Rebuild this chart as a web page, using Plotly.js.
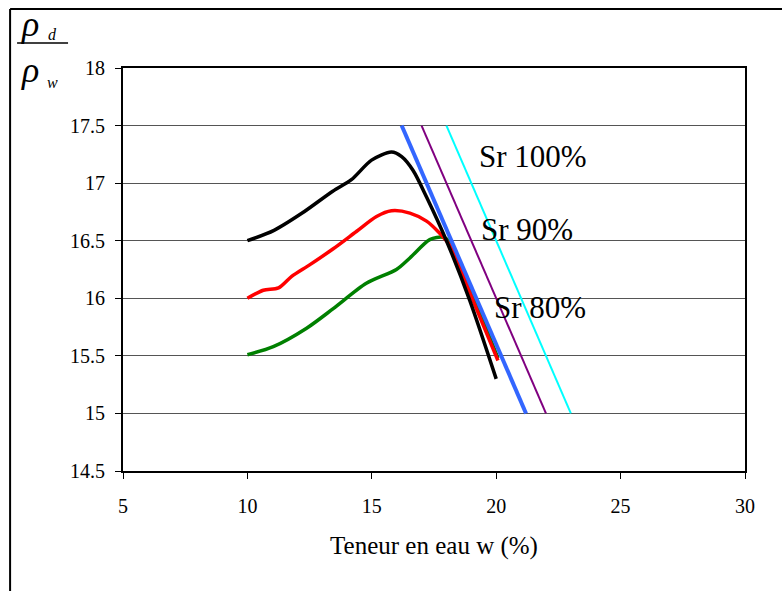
<!DOCTYPE html>
<html>
<head>
<meta charset="utf-8">
<script src="https://cdn.plot.ly/plotly-3.0.1.min.js"></script>
<style>html,body{margin:0;padding:0;background:#fff;}</style>
</head>
<body>
<div id="chart" style="width:782px;height:591px;"></div>
<script>
// Courbes Proctor (teneur en eau w %, rho_d / rho_w)
const blackW = [10, 11.07, 12.2, 13.43, 14.18, 14.99, 15.79, 16.2, 16.66, 17.2, 18.0, 18.94, 20.0];
const blackY = [16.5, 16.59, 16.74, 16.93, 17.03, 17.2, 17.27, 17.23, 17.11, 16.88, 16.5, 15.98, 15.3];

const redW = [10, 10.64, 11.25, 11.78, 12.5, 13.45, 14.38, 15.19, 15.79, 16.53, 17.2, 17.66, 18.13, 19.07, 20.07];
const redY = [16.0, 16.07, 16.09, 16.19, 16.29, 16.43, 16.58, 16.71, 16.76, 16.74, 16.67, 16.58, 16.46, 15.98, 15.46];

const greenW = [10, 11.04, 12.38, 13.45, 14.78, 15.99, 16.53, 17.33, 17.86, 18.13, 19.07, 20.07];
const greenY = [15.51, 15.58, 15.74, 15.91, 16.13, 16.25, 16.35, 16.51, 16.53, 16.49, 16.02, 15.48];

// Courbes de saturation
const satY = [17.5, 15.0];
const sr80W = [16.2, 21.2];
const sr90W = [17.0, 22.0];
const sr100W = [18.0, 23.0];
const satLabels = ["Sr 100%", "Sr 90%", "Sr 80%"];

const xTicks = [5, 10, 15, 20, 25, 30];
const yTicks = [14.5, 15, 15.5, 16, 16.5, 17, 17.5, 18];

const curve = (x, y, color, width) => ({
  x: x, y: y, type: 'scatter', mode: 'lines',
  line: {color: color, width: width, shape: 'spline', smoothing: 0.8},
  hoverinfo: 'skip', showlegend: false
});
const straight = (x, y, color, width) => ({
  x: x, y: y, type: 'scatter', mode: 'lines',
  line: {color: color, width: width},
  hoverinfo: 'skip', showlegend: false
});

const data = [
  straight(sr100W, satY, '#00ffff', 2),
  straight(sr90W, satY, '#800080', 2),
  curve(greenW, greenY, '#008000', 3.5),
  curve(redW, redY, '#ff0000', 3.5),
  curve(blackW, blackY, '#000000', 3.5),
  straight(sr80W, satY, '#3366ff', 4)
];

const serif = 'Times New Roman';
const px2x = p => (p - 123) / 622.5;
const px2y = p => (471 - p) / 403;

const layout = {
  width: 782, height: 591,
  margin: {l: 123, r: 37, t: 68, b: 120},
  paper_bgcolor: '#ffffff', plot_bgcolor: '#ffffff',
  font: {family: serif, color: '#000', size: 20},
  showlegend: false,
  xaxis: {
    range: [5, 30], tickmode: 'array', tickvals: xTicks, ticktext: xTicks.map(String),
    showgrid: false, zeroline: false,
    showline: true, linecolor: '#000', linewidth: 2, mirror: true,
    ticks: 'outside', ticklen: 6, tickcolor: '#000', tickwidth: 1,
    ticklabelstandoff: 10,
    tickfont: {family: serif, size: 20, color: '#000'},
    title: {text: 'Teneur en eau w (%)', font: {family: serif, size: 25, color: '#000'}, standoff: 20}
  },
  yaxis: {
    range: [14.5, 18], tickmode: 'array', tickvals: yTicks, ticktext: yTicks.map(String),
    showgrid: true, gridcolor: '#555', gridwidth: 1, zeroline: false,
    showline: true, linecolor: '#000', linewidth: 2, mirror: true,
    ticks: 'outside', ticklen: 6, tickcolor: '#000', tickwidth: 1,
    ticklabelstandoff: 6,
    tickfont: {family: serif, size: 20, color: '#000'}
  },
  shapes: [
    {type: 'line', xref: 'paper', yref: 'paper', x0: px2x(10), x1: px2x(790), y0: px2y(9), y1: px2y(9), line: {color: '#000', width: 2}},
    {type: 'line', xref: 'paper', yref: 'paper', x0: px2x(10), x1: px2x(10), y0: px2y(9), y1: px2y(600), line: {color: '#000', width: 2}},
    {type: 'line', xref: 'paper', yref: 'paper', x0: px2x(17), x1: px2x(68), y0: px2y(43), y1: px2y(43), line: {color: '#000', width: 1.5}}
  ],
  annotations: [
    {text: satLabels[0], x: 21.47, y: 17.235, xref: 'x', yref: 'y', showarrow: false, xanchor: 'center', yanchor: 'middle', font: {family: serif, size: 31}},
    {text: satLabels[1], x: 21.25, y: 16.60, xref: 'x', yref: 'y', showarrow: false, xanchor: 'center', yanchor: 'middle', font: {family: serif, size: 31}},
    {text: satLabels[2], x: 21.75, y: 15.92, xref: 'x', yref: 'y', showarrow: false, xanchor: 'center', yanchor: 'middle', font: {family: serif, size: 31}},
    {text: '<i>ρ</i>', x: px2x(30), y: px2y(24), xref: 'paper', yref: 'paper', showarrow: false, xanchor: 'center', yanchor: 'middle', font: {family: serif, size: 36}},
    {text: '<i>d</i>', x: px2x(52), y: px2y(34), xref: 'paper', yref: 'paper', showarrow: false, xanchor: 'center', yanchor: 'middle', font: {family: serif, size: 16}},
    {text: '<i>ρ</i>', x: px2x(30), y: px2y(70), xref: 'paper', yref: 'paper', showarrow: false, xanchor: 'center', yanchor: 'middle', font: {family: serif, size: 36}},
    {text: '<i>w</i>', x: px2x(52), y: px2y(82), xref: 'paper', yref: 'paper', showarrow: false, xanchor: 'center', yanchor: 'middle', font: {family: serif, size: 16}}
  ]
};

Plotly.newPlot('chart', data, layout, {staticPlot: true, displayModeBar: false});
</script>
</body>
</html>
